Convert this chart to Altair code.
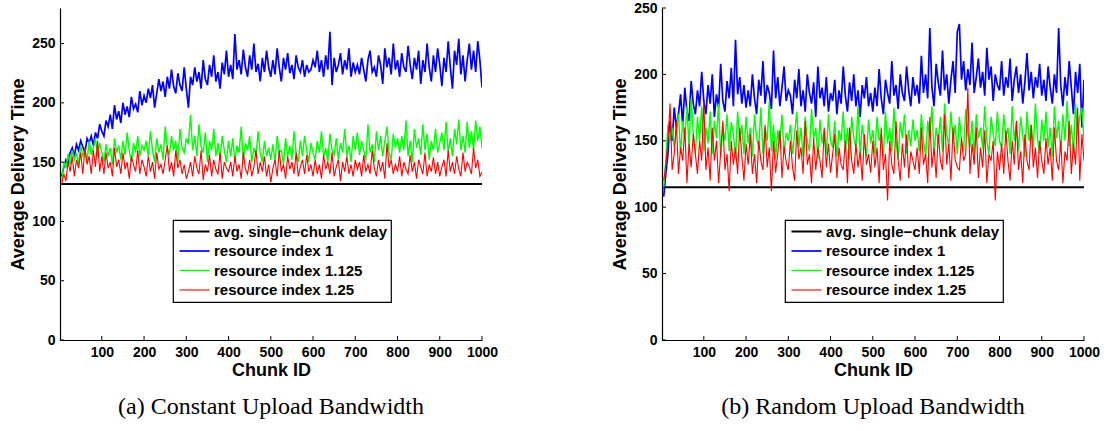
import altair as alt
import pandas as pd

# ---------------- data ----------------
chunk_ids = list(range(5, 1001, 5))          # chunk IDs 5, 10, ..., 1000
x_ticks = [100, 200, 300, 400, 500, 600, 700, 800, 900, 1000]
y_ticks = [0, 50, 100, 150, 200, 250]
series_names = ["avg. single\u2212chunk delay", "resource index 1",
                "resource index 1.125", "resource index 1.25"]
series_colors = ["#000000", "#0000ff", "#00ff00", "#ff0000"]
series_widths = [2.0, 1.1, 1.1, 1.1]
captions = ["(a) Constant Upload Bandwidth", "(b) Random Upload Bandwidth"]

# (a) constant upload bandwidth
a_single_chunk = 131.5
a_index_1 = [
    138, 146, 152, 149, 158, 162, 155, 165, 160, 168, 163, 158, 170, 166, 172, 164, 175, 170, 182, 176,
    172, 185, 180, 190, 178, 198, 186, 193, 183, 200, 190, 197, 188, 205, 195, 199, 192, 210, 198, 206,
    200, 212, 204, 215, 196, 208, 220, 210, 218, 205, 222, 212, 228, 214, 208, 225, 215, 210, 230, 212,
    196, 222, 215, 230, 218, 226, 212, 236, 220, 215, 232, 222, 240, 218, 226, 212, 234, 224, 244, 222,
    232, 220, 258, 228, 236, 224, 245, 230, 222, 240, 228, 250, 226, 233, 218, 238, 226, 244, 230, 222,
    236, 224, 246, 230, 218, 238, 228, 242, 225, 232, 220, 240, 230, 226, 236, 222, 232, 226, 228, 236,
    230, 244, 226, 236, 222, 240, 228, 260, 215, 238, 226, 232, 242, 224, 236, 228, 246, 222, 234, 226,
    232, 224, 238, 228, 218, 236, 244, 226, 230, 222, 240, 232, 216, 246, 230, 238, 224, 250, 228, 236,
    222, 242, 230, 226, 248, 232, 220, 238, 228, 244, 216, 236, 226, 250, 230, 218, 240, 226, 246, 232,
    214, 238, 226, 252, 230, 212, 244, 232, 254, 224, 240, 218, 236, 250, 228, 244, 226, 252, 236, 213,
]
a_index_1125 = [
    133, 150, 145, 157, 148, 160, 152, 158, 148, 164, 155, 160, 150, 168, 156, 162, 170, 155, 166, 158,
    150, 165, 155, 162, 148, 170, 158, 164, 152, 168, 156, 175, 160, 150, 166, 158, 172, 155, 164, 160,
    168, 155, 176, 160, 150, 170, 158, 165, 152, 180, 162, 156, 172, 160, 168, 150, 178, 162, 158, 170,
    165, 190, 160, 172, 155, 182, 163, 158, 175, 150, 168, 160, 178, 155, 166, 152, 172, 160, 150, 168,
    155, 170, 150, 164, 158, 180, 152, 166, 160, 172, 150, 162, 156, 176, 158, 150, 168, 155, 162, 152,
    165, 150, 172, 158, 160, 148, 170, 155, 164, 152, 176, 158, 150, 168, 155, 172, 160, 150, 166, 158,
    152, 168, 158, 176, 155, 162, 150, 174, 160, 156, 170, 152, 166, 158, 178, 155, 164, 150, 172, 160,
    175, 156, 168, 160, 152, 182, 158, 165, 150, 176, 160, 172, 155, 168, 180, 158, 152, 174, 162, 170,
    158, 172, 160, 185, 155, 168, 150, 178, 162, 170, 156, 182, 160, 174, 152, 168, 160, 178, 158, 166,
    175, 160, 184, 158, 170, 155, 178, 165, 186, 160, 172, 158, 184, 162, 176, 160, 185, 168, 180, 162,
]
a_index_125 = [
    131, 140, 134, 150, 142, 155, 138, 152, 145, 158, 140, 162, 148, 155, 140, 160, 146, 168, 142, 155,
    140, 158, 145, 150, 138, 162, 146, 152, 140, 158, 144, 150, 136, 155, 148, 142, 160, 140, 152, 146,
    138, 155, 142, 150, 136, 158, 144, 148, 140, 152, 164, 142, 150, 138, 160, 145, 152, 140, 148, 136,
    142, 150, 138, 155, 145, 140, 160, 135, 148, 142, 156, 138, 152, 144, 140, 158, 136, 150, 145, 142,
    150, 138, 155, 142, 148, 136, 158, 144, 140, 152, 138, 146, 160, 140, 150, 142, 155, 138, 148, 133,
    145, 152, 138, 160, 142, 148, 136, 155, 144, 150, 140, 158, 138, 146, 152, 140, 156, 142, 148, 138,
    152, 140, 148, 136, 156, 144, 150, 140, 158, 138, 146, 152, 134, 150, 142, 155, 140, 148, 138, 152,
    144, 150, 138, 156, 142, 148, 140, 160, 145, 138, 152, 142, 150, 136, 166, 145, 152, 140, 148, 142,
    155, 138, 150, 144, 140, 156, 142, 150, 136, 152, 146, 140, 158, 138, 148, 142, 154, 140, 150, 138,
    146, 152, 138, 160, 142, 150, 140, 155, 144, 138, 158, 142, 150, 146, 140, 162, 145, 152, 138, 142,
]

# (b) random upload bandwidth
b_single_chunk = 115
b_index_1 = [
    108, 125, 140, 165, 150, 175, 160, 170, 185, 162, 190, 172, 165, 195, 178, 170, 188, 176, 202, 180,
    170, 192, 178, 200, 168, 185, 175, 208, 180, 172, 195, 182, 205, 176, 226, 185, 198, 178, 192, 175,
    188, 176, 200, 182, 170, 196, 184, 210, 178, 192, 186, 174, 218, 182, 198, 176, 190, 206, 180, 188,
    184, 170, 196, 182, 204, 176, 188, 172, 200, 186, 178, 194, 168, 206, 182, 190, 176, 198, 172, 186,
    180, 196, 170, 188, 178, 206, 184, 172, 194, 180, 200, 176, 188, 168, 192, 182, 198, 176, 186, 172,
    190, 176, 204, 182, 170, 196, 186, 178, 210, 184, 192, 174, 200, 186, 180, 206, 188, 176, 198, 184,
    192, 178, 214, 186, 200, 182, 235, 190, 176, 208, 194, 184, 218, 188, 200, 178, 196, 210, 186, 232,
    238, 196, 210, 188, 204, 192, 224, 186, 198, 212, 190, 202, 184, 220, 196, 206, 180, 200, 192, 188,
    210, 184, 198, 190, 212, 180, 196, 206, 186, 200, 178, 194, 216, 188, 202, 182, 198, 190, 208, 184,
    196, 180, 206, 190, 178, 200, 186, 235, 192, 176, 198, 184, 210, 190, 170, 202, 186, 208, 160, 196,
]
b_index_1125 = [
    115, 135, 162, 150, 160, 145, 158, 170, 140, 165, 150, 176, 145, 182, 155, 140, 168, 150, 176, 142,
    160, 148, 172, 140, 165, 152, 178, 138, 160, 150, 170, 142, 164, 155, 136, 172, 150, 162, 140, 168,
    148, 160, 138, 170, 152, 145, 175, 140, 160, 150, 180, 142, 162, 136, 158, 148, 170, 140, 156, 150,
    162, 140, 155, 172, 145, 160, 138, 168, 150, 142, 174, 152, 160, 136, 166, 148, 158, 140, 170, 150,
    145, 165, 138, 158, 150, 172, 142, 160, 136, 168, 152, 145, 176, 140, 162, 150, 138, 166, 148, 158,
    140, 168, 150, 155, 138, 172, 148, 160, 142, 175, 150, 136, 164, 152, 170, 140, 158, 146, 166, 150,
    158, 142, 170, 150, 138, 165, 152, 176, 140, 160, 148, 168, 142, 178, 155, 146, 172, 150, 162, 140,
    168, 150, 142, 174, 156, 145, 165, 138, 170, 152, 160, 144, 176, 150, 140, 168, 155, 146, 172, 150,
    145, 170, 152, 160, 140, 176, 150, 164, 142, 168, 155, 138, 172, 150, 162, 145, 178, 152, 140, 166,
    150, 172, 145, 160, 138, 176, 152, 165, 142, 170, 150, 180, 146, 162, 140, 178, 155, 168, 175, 150,
]
b_index_125 = [
    120, 132, 150, 178, 128, 140, 165, 125, 145, 135, 160, 118, 148, 130, 155, 140, 125, 150, 135, 180,
    128, 145, 120, 160, 135, 150, 118, 142, 165, 128, 140, 112, 150, 132, 145, 125, 160, 138, 120, 148,
    132, 155, 125, 140, 118, 150, 135, 128, 162, 130, 145, 112, 150, 126, 140, 158, 122, 146, 134, 128,
    150, 130, 120, 158, 136, 145, 125, 165, 132, 140, 118, 152, 128, 145, 135, 122, 160, 130, 148, 126,
    140, 155, 122, 145, 132, 128, 150, 118, 160, 135, 125, 148, 130, 142, 120, 155, 132, 140, 126, 150,
    130, 145, 118, 160, 128, 140, 105, 150, 132, 125, 165, 135, 120, 148, 130, 155, 122, 142, 135, 128,
    145, 125, 160, 132, 140, 118, 168, 130, 145, 122, 155, 135, 128, 170, 132, 148, 120, 160, 136, 130,
    128, 152, 135, 140, 190, 125, 148, 132, 160, 122, 145, 130, 158, 118, 140, 135, 150, 105, 142, 128,
    148, 125, 158, 135, 120, 150, 132, 165, 128, 142, 118, 155, 135, 128, 162, 130, 145, 122, 150, 135,
    125, 152, 132, 145, 120, 160, 135, 128, 150, 118, 142, 135, 165, 125, 148, 132, 175, 120, 155, 135,
]

for s in (a_index_1, a_index_1125, a_index_125, b_index_1, b_index_1125, b_index_125):
    assert len(s) == len(chunk_ids), len(s)

# ---------------- chart ----------------
W, H = 422, 332
SANS = "Liberation Sans"


def build_frame(base, s1, s2, s3):
    rows = [{"chunk": 1, "delay": base, "series": series_names[0]},
            {"chunk": 1000, "delay": base, "series": series_names[0]}]
    for name, vals in zip(series_names[1:], (s1, s2, s3)):
        for c, v in zip(chunk_ids, vals):
            rows.append({"chunk": c, "delay": v, "series": name})
    return pd.DataFrame(rows)


def panel(df, ymax, caption, lx, ly):
    xs = alt.Scale(domain=[1, 1000], nice=False, zero=False)
    ys = alt.Scale(domain=[0, ymax], nice=False)
    x_axis = alt.Axis(values=x_ticks, title="Chunk ID", ticks=False, format="d",
                      labelOverlap=False, labelFlush=False, labelPadding=5,
                      titlePadding=2)
    y_axis = alt.Axis(values=y_ticks, title="Average Delivery Time", format="d",
                      labelOverlap=False, labelFlush=False, ticks=False,
                      labelPadding=5, titlePadding=4)
    lines = alt.Chart(df).mark_line(clip=True).encode(
        x=alt.X("chunk:Q", scale=xs, axis=x_axis),
        y=alt.Y("delay:Q", scale=ys, axis=y_axis),
        color=alt.Color("series:N",
                        scale=alt.Scale(domain=series_names, range=series_colors),
                        legend=alt.Legend(orient="none", legendX=lx, legendY=ly,
                                          title=None, direction="vertical",
                                          symbolType="M-1,0H5", symbolSize=100,
                                          symbolStrokeWidth=1.2,
                                          labelFont=SANS, labelFontWeight="bold",
                                          labelFontSize=15, labelColor="black",
                                          labelLimit=300, labelOffset=22,
                                          rowPadding=3.5, padding=4,
                                          strokeColor="black", fillColor="white")),
        strokeWidth=alt.StrokeWidth("series:N",
                                    scale=alt.Scale(domain=series_names,
                                                    range=series_widths),
                                    legend=None),
    )
    xt = alt.Chart(pd.DataFrame({"t": x_ticks})).mark_rule(
        color="black", strokeWidth=1).encode(
        x=alt.X("t:Q", scale=xs, axis=x_axis),
        y=alt.value(H), y2=alt.value(H - 4))
    yt = alt.Chart(pd.DataFrame({"t": y_ticks})).mark_rule(
        color="black", strokeWidth=1).encode(
        y=alt.Y("t:Q", scale=ys, axis=y_axis),
        x=alt.value(0), x2=alt.value(4))
    return alt.layer(lines, xt, yt).properties(
        width=W, height=H,
        title=alt.TitleParams(caption, orient="bottom", anchor="middle",
                              font="Liberation Serif", fontSize=24,
                              fontWeight="normal", color="black", offset=16))


left = panel(build_frame(a_single_chunk, a_index_1, a_index_1125, a_index_125),
             280, captions[0], 113, 212)
right = panel(build_frame(b_single_chunk, b_index_1, b_index_1125, b_index_125),
              250, captions[1], 123, 212)

chart = alt.hconcat(left, right, spacing=113).resolve_legend(
    color="independent", strokeWidth="independent"
).resolve_scale(color="independent", strokeWidth="independent").properties(
    padding={"left": 9, "top": 1, "right": 0, "bottom": 0}
).configure_view(strokeWidth=0).configure_axis(
    grid=False, domainColor="black", domainWidth=1.2,
    labelFont=SANS, labelFontWeight="bold", labelFontSize=14, labelColor="black",
    titleFont=SANS, titleFontWeight="bold", titleFontSize=18, titleColor="black",
).configure_legend(strokeWidth=1.2)

chart.save("out.html", embed_options={"renderer": "svg", "actions": False})
